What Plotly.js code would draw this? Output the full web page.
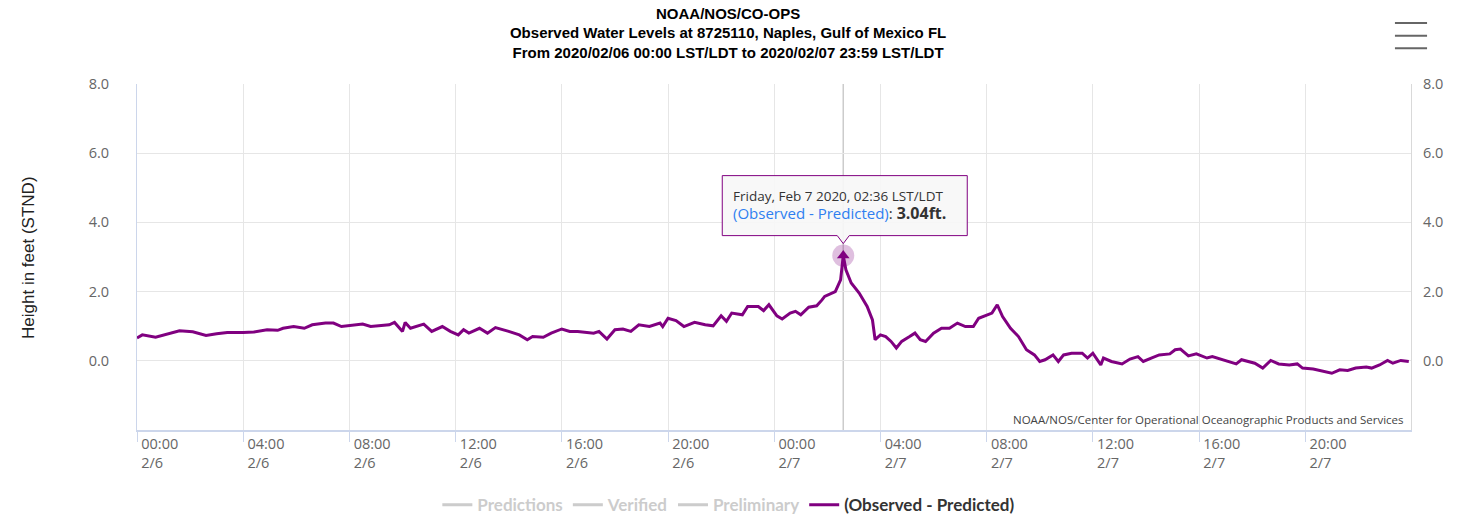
<!DOCTYPE html>
<html>
<head>
<meta charset="utf-8">
<script src="https://cdn.plot.ly/plotly-3.0.1.min.js"></script>
<style>
  html, body { margin: 0; padding: 0; background: #ffffff; }
  #chart { width: 1465px; height: 529px; }
</style>
</head>
<body>
<div id="chart"></div>
<script>
// ---- Data ----
const obsTimes = [
  '2020-02-06 00:00','2020-02-06 00:12','2020-02-06 00:42','2020-02-06 01:36','2020-02-06 02:06',
  '2020-02-06 02:36','2020-02-06 03:00','2020-02-06 03:24','2020-02-06 04:00','2020-02-06 04:24',
  '2020-02-06 04:54','2020-02-06 05:18','2020-02-06 05:30','2020-02-06 05:54','2020-02-06 06:18',
  '2020-02-06 06:36','2020-02-06 07:06','2020-02-06 07:24','2020-02-06 07:42','2020-02-06 08:00',
  '2020-02-06 08:30','2020-02-06 08:48','2020-02-06 09:30','2020-02-06 09:42','2020-02-06 10:00',
  '2020-02-06 10:06','2020-02-06 10:18','2020-02-06 10:48','2020-02-06 11:06','2020-02-06 11:30',
  '2020-02-06 11:48','2020-02-06 12:06','2020-02-06 12:18','2020-02-06 12:30','2020-02-06 12:54',
  '2020-02-06 13:12','2020-02-06 13:30','2020-02-06 14:00','2020-02-06 14:24','2020-02-06 14:42',
  '2020-02-06 14:54','2020-02-06 15:18','2020-02-06 15:36','2020-02-06 16:00','2020-02-06 16:18',
  '2020-02-06 16:36','2020-02-06 17:12','2020-02-06 17:24','2020-02-06 17:42','2020-02-06 18:00',
  '2020-02-06 18:18','2020-02-06 18:36','2020-02-06 18:54','2020-02-06 19:18','2020-02-06 19:42',
  '2020-02-06 19:48','2020-02-06 20:00','2020-02-06 20:18','2020-02-06 20:36','2020-02-06 21:00',
  '2020-02-06 21:24','2020-02-06 21:42','2020-02-06 22:00','2020-02-06 22:12','2020-02-06 22:24',
  '2020-02-06 22:48','2020-02-06 23:00','2020-02-06 23:24','2020-02-06 23:36','2020-02-06 23:48',
  '2020-02-07 00:06','2020-02-07 00:18','2020-02-07 00:36','2020-02-07 00:48','2020-02-07 01:00',
  '2020-02-07 01:18','2020-02-07 01:36','2020-02-07 01:48','2020-02-07 01:54','2020-02-07 02:18',
  '2020-02-07 02:30','2020-02-07 02:36','2020-02-07 02:42','2020-02-07 02:54','2020-02-07 03:12',
  '2020-02-07 03:30','2020-02-07 03:42','2020-02-07 03:48','2020-02-07 04:00','2020-02-07 04:12',
  '2020-02-07 04:24','2020-02-07 04:36','2020-02-07 04:48','2020-02-07 05:06','2020-02-07 05:18',
  '2020-02-07 05:30','2020-02-07 05:42','2020-02-07 06:00','2020-02-07 06:18','2020-02-07 06:36',
  '2020-02-07 06:54','2020-02-07 07:12','2020-02-07 07:30','2020-02-07 07:42','2020-02-07 08:00',
  '2020-02-07 08:12','2020-02-07 08:24','2020-02-07 08:36','2020-02-07 08:54','2020-02-07 09:12',
  '2020-02-07 09:30','2020-02-07 09:48','2020-02-07 10:00','2020-02-07 10:12','2020-02-07 10:30',
  '2020-02-07 10:42','2020-02-07 10:54','2020-02-07 11:12','2020-02-07 11:36','2020-02-07 11:48',
  '2020-02-07 12:00','2020-02-07 12:18','2020-02-07 12:24','2020-02-07 12:42','2020-02-07 13:06',
  '2020-02-07 13:24','2020-02-07 13:42','2020-02-07 13:54','2020-02-07 14:12','2020-02-07 14:30',
  '2020-02-07 14:54','2020-02-07 15:06','2020-02-07 15:18','2020-02-07 15:36','2020-02-07 15:54',
  '2020-02-07 16:18','2020-02-07 16:30','2020-02-07 16:54','2020-02-07 17:24','2020-02-07 17:36',
  '2020-02-07 18:06','2020-02-07 18:24','2020-02-07 18:42','2020-02-07 19:00','2020-02-07 19:24',
  '2020-02-07 19:42','2020-02-07 19:54','2020-02-07 20:18','2020-02-07 20:48','2020-02-07 21:00',
  '2020-02-07 21:18','2020-02-07 21:36','2020-02-07 21:54','2020-02-07 22:18','2020-02-07 22:30',
  '2020-02-07 22:48','2020-02-07 23:06','2020-02-07 23:18','2020-02-07 23:36','2020-02-07 23:54'
];
const obsMinusPred = [
  0.66, 0.75, 0.68, 0.87, 0.84,
  0.73, 0.78, 0.82, 0.82, 0.83,
  0.90, 0.88, 0.94, 0.99, 0.94,
  1.04, 1.09, 1.09, 0.99, 1.02,
  1.06, 0.99, 1.04, 1.11, 0.85,
  1.11, 0.94, 1.06, 0.85, 0.99,
  0.85, 0.75, 0.90, 0.80, 0.94,
  0.80, 0.96, 0.85, 0.75, 0.61,
  0.70, 0.68, 0.80, 0.92, 0.85,
  0.85, 0.80, 0.85, 0.63, 0.90,
  0.92, 0.85, 1.04, 0.99, 1.09,
  0.99, 1.23, 1.16, 0.99, 1.11,
  1.04, 1.01, 1.30, 1.14, 1.38,
  1.33, 1.57, 1.57, 1.45, 1.62,
  1.30, 1.21, 1.38, 1.43, 1.33,
  1.55, 1.59, 1.76, 1.86, 2.00,
  2.34, 3.04, 2.63, 2.25, 1.96,
  1.57, 1.18, 0.61, 0.75, 0.70,
  0.56, 0.37, 0.56, 0.70, 0.80,
  0.61, 0.56, 0.80, 0.94, 0.94,
  1.09, 0.99, 0.99, 1.23, 1.33,
  1.38, 1.62, 1.28, 0.94, 0.70,
  0.32, 0.17, -0.02, 0.03, 0.17,
  -0.02, 0.17, 0.22, 0.22, 0.08,
  0.22, -0.12, 0.08, -0.02, -0.09,
  0.05, 0.12, -0.02, 0.08, 0.17,
  0.20, 0.32, 0.34, 0.14, 0.20,
  0.08, 0.12, 0.03, -0.09, 0.03,
  -0.07, -0.21, 0.01, -0.09, -0.12,
  -0.09, -0.21, -0.24, -0.34, -0.36,
  -0.26, -0.28, -0.21, -0.18, -0.21,
  -0.12, 0.01, -0.07, 0.01, -0.02
];
const seriesNames = ['Predictions', 'Verified', 'Preliminary', '(Observed - Predicted)'];
// These three series are switched off in the reference (legend only), so no values are shown.
const predictionsValues = [null];
const verifiedValues = [null];
const preliminaryValues = [null];

const xTickTimes = [
  '2020-02-06 00:00','2020-02-06 04:00','2020-02-06 08:00','2020-02-06 12:00','2020-02-06 16:00','2020-02-06 20:00',
  '2020-02-07 00:00','2020-02-07 04:00','2020-02-07 08:00','2020-02-07 12:00','2020-02-07 16:00','2020-02-07 20:00'
];
const xTickLabels = [
  '00:00<br>2/6','04:00<br>2/6','08:00<br>2/6','12:00<br>2/6','16:00<br>2/6','20:00<br>2/6',
  '00:00<br>2/7','04:00<br>2/7','08:00<br>2/7','12:00<br>2/7','16:00<br>2/7','20:00<br>2/7'
];
const yTickValues = [0, 2, 4, 6, 8];
const yTickLabels = ['0.0', '2.0', '4.0', '6.0', '8.0'];
const xRange = ['2020-02-06 00:00', '2020-02-07 23:59'];
const yRange = [-2, 8];

const hoverTime = '2020-02-07 02:36';
const hoverValue = 3.04;
const hoverDateText = 'Friday, Feb 7 2020, 02:36 LST/LDT';

const titleText = 'NOAA/NOS/CO-OPS<br>Observed Water Levels at 8725110, Naples, Gulf of Mexico FL<br>From 2020/02/06 00:00 LST/LDT to 2020/02/07 23:59 LST/LDT';
const yTitleText = 'Height in feet (STND)';
const creditText = 'NOAA/NOS/Center for Operational Oceanographic Products and Services';

// ---- Traces ----
const PURPLE = '#800080';
const TICKFONT = { family: 'Open Sans, Noto Sans, sans-serif', size: 14.5, color: '#666666' };

function hiddenSeries(name, values) {
  return {
    type: 'scatter', mode: 'lines', name: '<span style="color:#999999">' + name + '</span>',
    x: values.map(function (v, i) { return obsTimes[i]; }), y: values,
    line: { color: '#999999', width: 3 }, visible: 'legendonly', hoverinfo: 'skip'
  };
}

const traces = [
  hiddenSeries(seriesNames[0], predictionsValues),
  hiddenSeries(seriesNames[1], verifiedValues),
  hiddenSeries(seriesNames[2], preliminaryValues),
  {
    type: 'scatter', mode: 'lines', name: seriesNames[3],
    x: obsTimes, y: obsMinusPred,
    line: { color: PURPLE, width: 3 }, hoverinfo: 'skip'
  },
  {
    type: 'scatter', mode: 'markers', showlegend: false, hoverinfo: 'skip',
    x: [hoverTime], y: [hoverValue],
    marker: { symbol: 'circle', size: 22, color: 'rgba(128,0,128,0.25)', line: { width: 0 } }
  },
  {
    type: 'scatter', mode: 'markers', showlegend: false, hoverinfo: 'skip',
    x: [hoverTime], y: [hoverValue],
    marker: { symbol: 'triangle-up', size: 11, color: PURPLE, line: { width: 0 } }
  },
  {
    type: 'scatter', mode: 'lines', showlegend: false, hoverinfo: 'skip',
    x: [hoverTime], y: [null], yaxis: 'y2'
  }
];

const layout = {
  width: 1465, height: 529,
  paper_bgcolor: '#ffffff', plot_bgcolor: '#ffffff',
  margin: { l: 137, r: 54, t: 84, b: 99 },
  font: { family: 'Open Sans, Noto Sans, sans-serif', color: '#333333' },
  title: {
    text: titleText, xref: 'container', x: 0.497, xanchor: 'center',
    yref: 'container', y: 0.965, yanchor: 'top',
    font: { family: 'Liberation Sans, Arial, sans-serif', size: 15, color: '#000000', weight: 'bold' }
  },
  showlegend: true,
  legend: {
    orientation: 'h', xref: 'container', yref: 'container',
    x: 0.4975, xanchor: 'center', y: 0.045, yanchor: 'middle',
    font: { family: 'Lato, Open Sans, sans-serif', size: 17, color: '#333333', weight: 'bold' },
    itemclick: false, itemdoubleclick: false, bgcolor: 'rgba(0,0,0,0)'
  },
  xaxis: {
    type: 'date', range: xRange,
    tickvals: xTickTimes, ticktext: xTickLabels,
    ticklabelposition: 'outside right',
    ticks: 'outside', ticklen: 10, tickcolor: '#ccd6eb', tickwidth: 1,
    ticklabelstandoff: 0, ticklabelshift: 3,
    showgrid: true, gridcolor: '#e6e6e6', gridwidth: 1,
    showline: true, linecolor: '#ccd6eb', linewidth: 1.5,
    zeroline: false, tickfont: TICKFONT, fixedrange: true
  },
  yaxis: {
    range: yRange, tickvals: yTickValues, ticktext: yTickLabels,
    ticks: '', ticklabelstandoff: 24,
    showgrid: true, gridcolor: '#e6e6e6', gridwidth: 1,
    showline: true, linecolor: '#ccd6eb', linewidth: 1,
    zeroline: false, tickfont: TICKFONT, fixedrange: true,
    title: { text: '' }
  },
  yaxis2: {
    range: yRange, tickvals: yTickValues, ticktext: yTickLabels,
    overlaying: 'y', side: 'right', anchor: 'x',
    ticks: '', ticklabelstandoff: 8,
    showgrid: false, showline: true, linecolor: '#d9d9d9', linewidth: 1,
    zeroline: false, tickfont: TICKFONT, fixedrange: true
  },
  shapes: [
    // crosshair at the hovered point
    { type: 'line', xref: 'x', yref: 'paper', x0: hoverTime, x1: hoverTime, y0: 0, y1: 1,
      line: { color: '#cccccc', width: 1.5 }, layer: 'between' },
    // tooltip box with pointer (pixel-sized, anchored at the hovered point)
    { type: 'path', xref: 'x', yref: 'y', xsizemode: 'pixel', ysizemode: 'pixel',
      xanchor: hoverTime, yanchor: hoverValue,
      path: 'M -121,20 L -6,20 L 0,12 L 6,20 L 124,20 L 124,80 L -121,80 Z',
      fillcolor: 'rgba(247,247,247,0.92)', line: { color: PURPLE, width: 1 }, layer: 'above' },
    // menu icon
    { type: 'line', xref: 'paper', yref: 'paper', x0: 0.9874, x1: 1.0126, y0: 1.1763, y1: 1.1763, line: { color: '#666666', width: 2 } },
    { type: 'line', xref: 'paper', yref: 'paper', x0: 0.9874, x1: 1.0126, y0: 1.1396, y1: 1.1396, line: { color: '#666666', width: 2 } },
    { type: 'line', xref: 'paper', yref: 'paper', x0: 0.9874, x1: 1.0126, y0: 1.1032, y1: 1.1032, line: { color: '#666666', width: 2 } }
  ],
  annotations: [
    { xref: 'x', yref: 'y', x: hoverTime, y: hoverValue, xanchor: 'left', yanchor: 'middle',
      xshift: -112, yshift: 50, showarrow: false, align: 'left',
      text: '<span style="color:#333333;font-size:13.5px">' + hoverDateText + '</span><br>' +
            '<span style="color:#2f7ff0;font-size:15px">' + seriesNames[3] + '</span><span style="color:#333333;font-size:15px">: </span>' +
            '<span style="color:#333333;font-size:16px"><b>' + hoverValue.toFixed(2) + 'ft.</b></span>',
      font: { family: 'Open Sans, Noto Sans, sans-serif', size: 14, color: '#333333' } },
    { xref: 'paper', yref: 'paper', x: 1, y: 0, xanchor: 'right', yanchor: 'bottom',
      xshift: -5, yshift: 1, showarrow: false, text: creditText,
      font: { family: 'Open Sans, Noto Sans, sans-serif', size: 11.5, color: '#444444' } },
    { xref: 'paper', yref: 'paper', x: -0.0856, y: 0.5, xanchor: 'center', yanchor: 'middle',
      textangle: -90, showarrow: false, text: yTitleText,
      font: { family: 'Liberation Sans, Arial, sans-serif', size: 17, color: '#222222' } }
  ]
};

Plotly.newPlot('chart', traces, layout, { displayModeBar: false, staticPlot: true });
</script>
</body>
</html>
